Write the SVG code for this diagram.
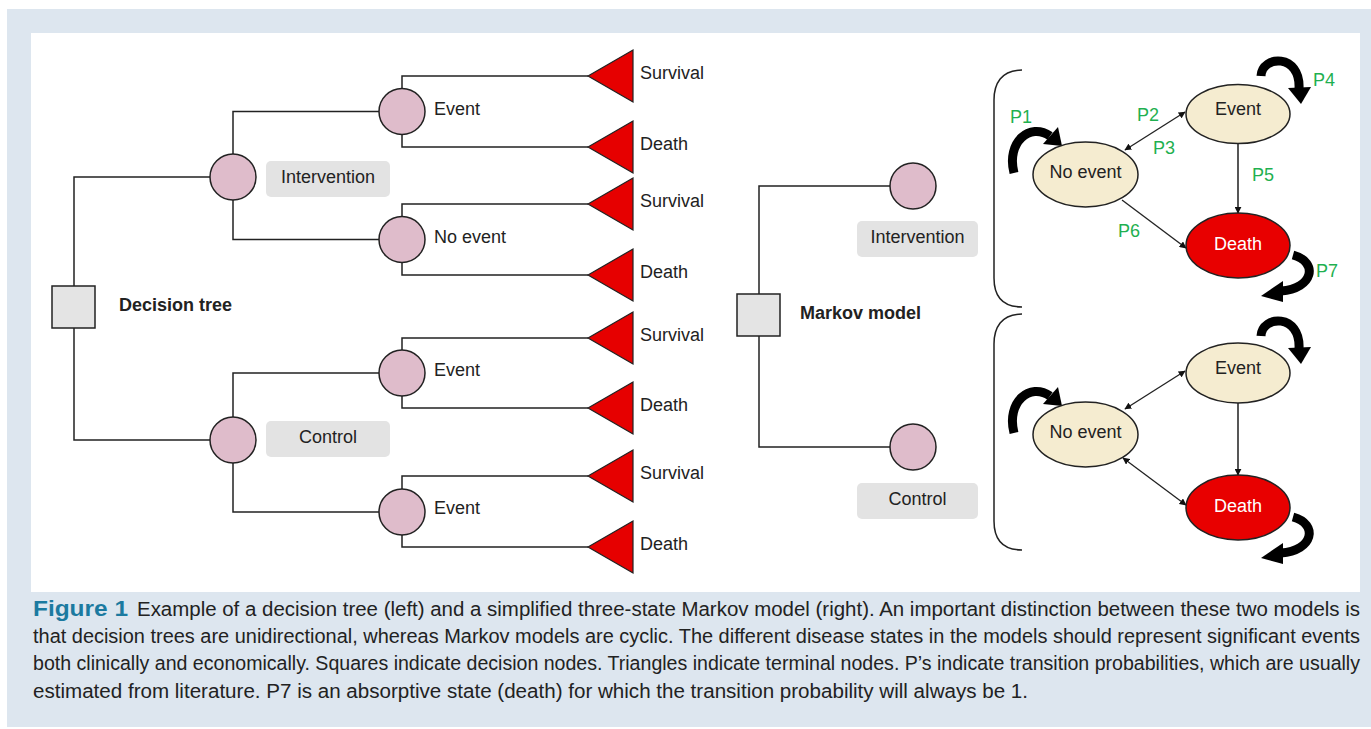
<svg xmlns="http://www.w3.org/2000/svg" width="1371" height="729" viewBox="0 0 1371 729">
<defs>
<style>
.ln{fill:none;stroke:#222;stroke-width:1.5}
.ch{fill:#dfbccb;stroke:#222;stroke-width:1.5}
.sq{fill:#e4e4e4;stroke:#222;stroke-width:1.5}
.tri{fill:#e60000;stroke:#222;stroke-width:1.2}
.box{fill:#e3e3e3}
.t{font-family:"Liberation Sans",Arial,sans-serif;font-size:18px;fill:#222}
.b{font-weight:bold}
.mid{text-anchor:middle}
.g{font-family:"Liberation Sans",Arial,sans-serif;font-size:18px;fill:#1fb050}
.st{fill:#f5ecd0;stroke:#222;stroke-width:1.5}
.dd{fill:#e80000;stroke:#222;stroke-width:1.5}
.ar{fill:none;stroke:#222;stroke-width:1.3}
.vl{fill:none;stroke:#444;stroke-width:1.8}
.lp{fill:none;stroke:#000;stroke-width:9}
.hd{fill:#000}
.cap{font-family:"Liberation Sans Narrow","Liberation Sans",Arial,sans-serif;font-size:20px;fill:#222}
</style>
<marker id="ah" viewBox="0 0 10 10" refX="9" refY="5" markerWidth="7" markerHeight="7" markerUnits="userSpaceOnUse" orient="auto-start-reverse">
<path d="M0,0 L10,5 L0,10 z" fill="#111"/>
</marker>
</defs>
<rect x="7" y="9" width="1364" height="718" fill="#dde6ef"/>
<rect x="31" y="33" width="1329" height="559" fill="#ffffff"/>

<g id="connectors">
<path class="ln" d="M74,286 V177 H210 M74,328 V440 H210"/>
<path class="ln" d="M233,154 V111.5 H380 M233,200 V239.5 H380"/>
<path class="ln" d="M233,463 V512 H380 M233,417 V373 H380"/>
<path class="ln" d="M402,89 V76 H588 M402,134 V147 H588"/>
<path class="ln" d="M402,217 V204 H588 M402,262 V275 H588"/>
<path class="ln" d="M402,350 V338 H588 M402,396 V408 H588"/>
<path class="ln" d="M402,489 V476 H588 M402,535 V547 H588"/>
<path class="ln" d="M759,294 V186 H890 M759,336 V447 H890"/>
<path class="ln" d="M1022,70 C1001,70 994,84 994,100 L994,278 C994,294 1001,307 1022,307"/>
<path class="ln" d="M1022,314 C1001,314 994,328 994,344 L994,521 C994,537 1001,550 1022,550"/>
<line class="ar" x1="1125" y1="150" x2="1185" y2="112" marker-start="url(#ah)" marker-end="url(#ah)"/>
<line class="vl" x1="1238" y1="143" x2="1238" y2="213" marker-end="url(#ah)"/>
<line class="ar" x1="1122" y1="200" x2="1186" y2="248" marker-end="url(#ah)"/>
<line class="ar" x1="1125" y1="409" x2="1185" y2="371" marker-start="url(#ah)" marker-end="url(#ah)"/>
<line class="vl" x1="1238" y1="403" x2="1238" y2="475" marker-end="url(#ah)"/>
<line class="ar" x1="1123" y1="458" x2="1186" y2="505" marker-start="url(#ah)" marker-end="url(#ah)"/>
<path class="lp" d="M1014,173 C1006,142 1030,122 1050,136"/>
<path class="hd" d="M1043,144 L1058,127 L1062,146 z"/>
<path class="lp" d="M1261,76 C1262,55 1301,53 1299,89"/>
<path class="hd" d="M1288,88 L1311,87 L1301,104 z"/>
<path class="lp" d="M1293,255 C1319,262 1313,289 1281,291"/>
<path class="hd" d="M1283,281 L1283,302 L1261,296 z"/>
<path class="lp" d="M1014,433 C1006,402 1030,382 1050,396"/>
<path class="hd" d="M1043,404 L1058,387 L1062,406 z"/>
<path class="lp" d="M1261,336 C1262,315 1301,313 1299,349"/>
<path class="hd" d="M1288,348 L1311,347 L1301,364 z"/>
<path class="lp" d="M1293,517 C1319,524 1313,551 1281,553"/>
<path class="hd" d="M1283,543 L1283,564 L1261,558 z"/>
</g>

<g id="dt-root"><rect class="sq" x="52" y="286" width="43" height="42"/><text class="t b" x="119" y="311">Decision tree</text></g>
<g id="dt-intervention"><circle class="ch" cx="233" cy="177" r="23"/><rect class="box" x="266" y="161" width="124" height="36" rx="5"/><text class="t mid" x="328" y="183">Intervention</text></g>
<g id="dt-control"><circle class="ch" cx="233" cy="440" r="23"/><rect class="box" x="266" y="421" width="124" height="36" rx="5"/><text class="t mid" x="328" y="443">Control</text></g>
<g id="dt-i-event"><circle class="ch" cx="402" cy="111.5" r="23"/><text class="t" x="434" y="115">Event</text></g>
<g id="dt-i-noevent"><circle class="ch" cx="402" cy="239.5" r="23"/><text class="t" x="434" y="243">No event</text></g>
<g id="dt-c-event1"><circle class="ch" cx="402" cy="373" r="23"/><text class="t" x="434" y="376">Event</text></g>
<g id="dt-c-event2"><circle class="ch" cx="402" cy="512" r="23"/><text class="t" x="434" y="514">Event</text></g>
<g id="leaf1"><polygon class="tri" points="588,76 633,50 633,102"/><text class="t" x="640" y="79">Survival</text></g>
<g id="leaf2"><polygon class="tri" points="588,147 633,121 633,173"/><text class="t" x="640" y="150">Death</text></g>
<g id="leaf3"><polygon class="tri" points="588,204 633,178 633,230"/><text class="t" x="640" y="207">Survival</text></g>
<g id="leaf4"><polygon class="tri" points="588,275 633,249 633,301"/><text class="t" x="640" y="278">Death</text></g>
<g id="leaf5"><polygon class="tri" points="588,338 633,312 633,364"/><text class="t" x="640" y="341">Survival</text></g>
<g id="leaf6"><polygon class="tri" points="588,408 633,382 633,434"/><text class="t" x="640" y="411">Death</text></g>
<g id="leaf7"><polygon class="tri" points="588,476 633,450 633,502"/><text class="t" x="640" y="479">Survival</text></g>
<g id="leaf8"><polygon class="tri" points="588,547 633,521 633,573"/><text class="t" x="640" y="550">Death</text></g>

<g id="mm-root"><rect class="sq" x="737" y="294" width="43" height="42"/><text class="t b" x="800" y="319">Markov model</text></g>
<g id="mm-intervention"><circle class="ch" cx="913" cy="186" r="23"/><rect class="box" x="857" y="221" width="121" height="36" rx="5"/><text class="t mid" x="917.5" y="243">Intervention</text></g>
<g id="mm-control"><circle class="ch" cx="913" cy="447" r="23"/><rect class="box" x="857" y="483" width="121" height="36" rx="5"/><text class="t mid" x="917.5" y="505">Control</text></g>

<g id="i-event"><ellipse class="st" cx="1238" cy="114" rx="52" ry="29.5"/><text class="t mid" x="1238" y="115">Event</text></g>
<g id="i-noevent"><ellipse class="st" cx="1085.5" cy="174.5" rx="52.5" ry="32.5"/><text class="t mid" x="1085.5" y="178">No event</text></g>
<g id="i-death"><ellipse class="dd" cx="1238" cy="245.5" rx="52" ry="32.5"/><text class="t mid" x="1238" y="250" style="fill:#fff">Death</text></g>
<g id="c-event"><ellipse class="st" cx="1238" cy="373" rx="52" ry="30"/><text class="t mid" x="1238" y="374">Event</text></g>
<g id="c-noevent"><ellipse class="st" cx="1085.5" cy="434.5" rx="52.5" ry="32.5"/><text class="t mid" x="1085.5" y="438">No event</text></g>
<g id="c-death"><ellipse class="dd" cx="1238" cy="507.5" rx="52" ry="32.5"/><text class="t mid" x="1238" y="512" style="fill:#fff">Death</text></g>

<g id="probs">
<text class="g" x="1010" y="123">P1</text>
<text class="g" x="1137" y="121">P2</text>
<text class="g" x="1153" y="154">P3</text>
<text class="g" x="1313" y="86">P4</text>
<text class="g" x="1252" y="181">P5</text>
<text class="g" x="1118" y="237">P6</text>
<text class="g" x="1316" y="277">P7</text>
</g>

<g id="caption">
<text class="cap" x="33" y="616" style="font-weight:bold;font-size:22px;fill:#1b7aa0" textLength="95" lengthAdjust="spacingAndGlyphs">Figure 1</text>
<text class="cap" x="137" y="616" textLength="1223" lengthAdjust="spacingAndGlyphs">Example of a decision tree (left) and a simplified three-state Markov model (right). An important distinction between these two models is</text>
<text class="cap" x="33" y="643" textLength="1327" lengthAdjust="spacingAndGlyphs">that decision trees are unidirectional, whereas Markov models are cyclic. The different disease states in the models should represent significant events</text>
<text class="cap" x="33" y="670" textLength="1327" lengthAdjust="spacingAndGlyphs">both clinically and economically. Squares indicate decision nodes. Triangles indicate terminal nodes. P’s indicate transition probabilities, which are usually</text>
<text class="cap" x="33" y="698" textLength="995" lengthAdjust="spacingAndGlyphs">estimated from literature. P7 is an absorptive state (death) for which the transition probability will always be 1.</text>
</g>
</svg>
